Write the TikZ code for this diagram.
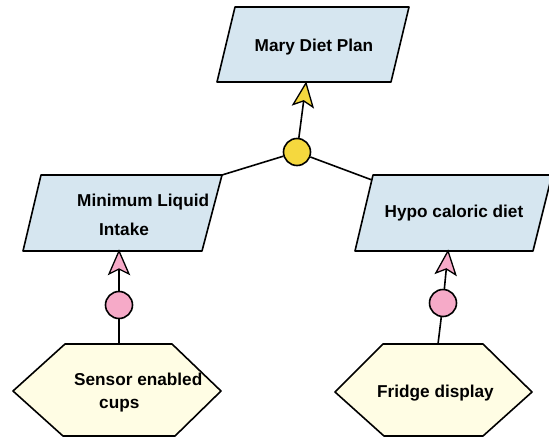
\documentclass[tikz,border=0pt]{standalone}
\usepackage{fontspec}
\setmainfont{Liberation Sans}
\usetikzlibrary{calc}
\definecolor{goalblue}{RGB}{214,230,240}
\definecolor{hexyellow}{RGB}{255,253,228}
\definecolor{andyellow}{RGB}{245,216,62}
\definecolor{pinkc}{RGB}{246,170,200}
\tikzset{
  shapeline/.style={draw=black,line width=1.6pt,line join=round},
  goal/.style={shapeline,fill=goalblue},
  agent/.style={shapeline,fill=hexyellow},
  lbl/.style={font=\fontsize{17.2}{20}\selectfont\bfseries,inner sep=0pt},
  junction/.style={circle,shapeline,minimum size=27pt,inner sep=0pt},
  conn/.style={line width=1.6pt},
  headline/.style={draw=black,line width=1.3pt,line join=miter}
}
% arrow from junction #1 to tip point #2, head fill #3
\newcommand{\myarrow}[3]{%
  \draw[conn] (#1) -- ($(#2)!18pt!(#1)$);
  \coordinate (hb) at ($(#2)!23pt!(#1)$);
  \filldraw[headline,fill=#3] (#2) -- ($(hb)!10pt!90:(#2)$) -- ($(#2)!18pt!(#1)$) -- ($(hb)!10pt!-90:(#2)$) -- cycle;
}
\begin{document}
\begin{tikzpicture}[x=1pt,y=-1pt]
\useasboundingbox (0,0) rectangle (549,439);
\fill[white] (0,0) rectangle (549,439);
% goals
\draw[goal] (235,7) -- (409,7) -- (391,82) -- (217,82) -- cycle;
\draw[goal] (41,175) -- (222,175) -- (202,251) -- (23,251) -- cycle;
\draw[goal] (373,175) -- (552,175) -- (533,251) -- (355,251) -- cycle;
% agents
\draw[agent] (65,344) -- (172,344) -- (221,391) -- (175,436) -- (63,436) -- (13,391) -- cycle;
\draw[agent] (383,344) -- (483,344) -- (532,392) -- (483,436) -- (384,436) -- (335,392) -- cycle;
% labels
\node[lbl] (tMary) at (314,47) {Mary Diet Plan};
\node[lbl,anchor=west] (tMin1) at (77,202) {Minimum Liquid};
\node[lbl,anchor=west] (tMin2) at (99,229) {Intake};
\node[lbl] (tHypo) at (454,213) {Hypo caloric diet};
\node[lbl,anchor=west] (tSen1) at (74,379) {Sensor enabled};
\node[lbl,anchor=west] (tSen2) at (99,406) {cups};
\node[lbl] (tFri) at (435.5,393) {Fridge display};
% connection points
\coordinate (maryB) at (306,83);
\coordinate (minTR) at (222,175);
\coordinate (hypoL) at (372,180);
\coordinate (minB) at (119,251);
\coordinate (hypoB) at (448,251);
\coordinate (senT) at (119,344);
\coordinate (friT) at (438,344);
% junctions
\node[junction,fill=andyellow] (and) at (297,152) {};
\node[junction,fill=pinkc] (pl) at (119,305) {};
\node[junction,fill=pinkc] (pr) at (443,303) {};
% connectors
\myarrow{and}{maryB}{andyellow}
\draw[conn] (and) -- (minTR);
\draw[conn] (and) -- (hypoL);
\myarrow{pl}{minB}{pinkc}
\myarrow{pr}{hypoB}{pinkc}
\draw[conn] (senT) -- (pl);
\draw[conn] (friT) -- (pr);
\end{tikzpicture}
\end{document}
